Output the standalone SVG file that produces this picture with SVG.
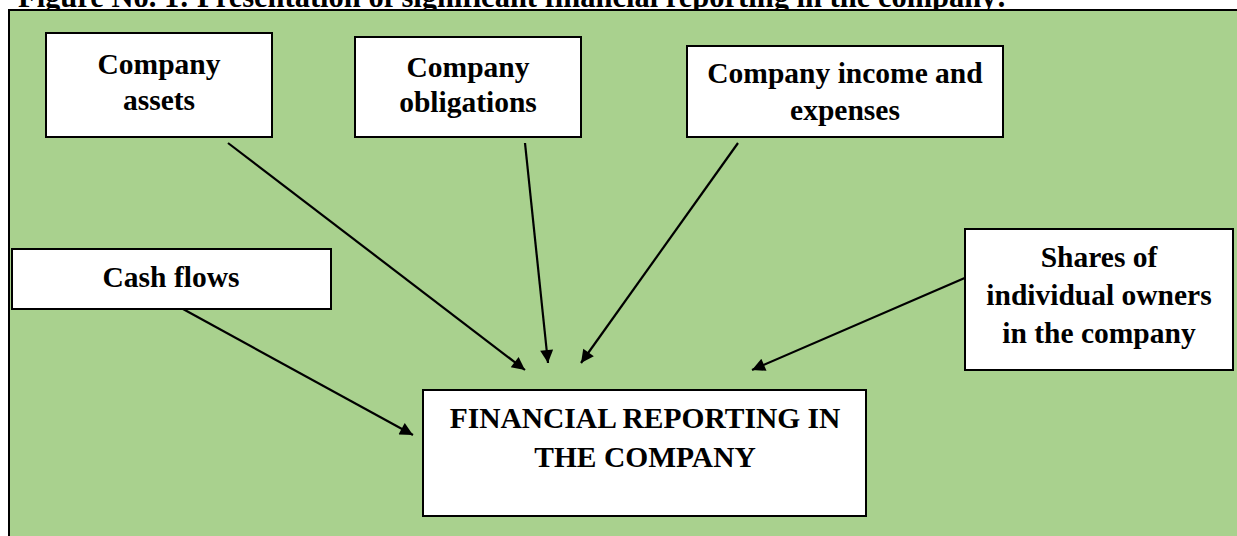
<svg xmlns="http://www.w3.org/2000/svg" width="1237" height="536" viewBox="0 0 1237 536">
<style>
.t{font-family:"Liberation Serif","Times New Roman",serif;font-weight:bold;font-size:29.5px;fill:#000;text-anchor:middle}
.title{font-family:"Liberation Serif","Times New Roman",serif;font-weight:bold;font-size:30.5px;fill:#000}
.box{fill:#fff;stroke:#000;stroke-width:2}
.c{stroke:#000;stroke-width:2.2;fill:none;marker-end:url(#ah)}
</style>
<defs>
<marker id="ah" viewBox="0 0 10 10" refX="10" refY="5" markerWidth="16" markerHeight="13" markerUnits="userSpaceOnUse" orient="auto">
<path d="M0,0 L10,5 L0,10 z" fill="#000"/>
</marker>
</defs>
<rect width="1237" height="536" fill="#fff"/>
<text class="title" x="18" y="7">Figure No. 1: Presentation of significant financial reporting in the company:</text>
<rect x="9" y="10" width="1240" height="540" fill="#A9D18E" stroke="#000" stroke-width="2"/>
<g id="connectors">
<line class="c" x1="228" y1="143" x2="525" y2="370"/>
<line class="c" x1="525" y1="143" x2="548" y2="363"/>
<line class="c" x1="738" y1="143" x2="581" y2="363"/>
<line class="c" x1="183" y1="309" x2="413" y2="435"/>
<line class="c" x1="967" y1="277" x2="752" y2="370"/>
</g>
<g id="assets">
<rect class="box" x="46" y="33" width="226" height="104"/>
<text class="t" x="159" y="74">Company</text>
<text class="t" x="159" y="110">assets</text>
</g>
<g id="obligations">
<rect class="box" x="355" y="37" width="226" height="100"/>
<text class="t" x="468" y="77">Company</text>
<text class="t" x="468" y="112">obligations</text>
</g>
<g id="income">
<rect class="box" x="687" y="46" width="316" height="91"/>
<text class="t" x="845" y="83">Company income and</text>
<text class="t" x="845" y="120">expenses</text>
</g>
<g id="cashflows">
<rect class="box" x="12" y="249" width="319" height="60"/>
<text class="t" x="171" y="287">Cash flows</text>
</g>
<g id="shares">
<rect class="box" x="965" y="229" width="268" height="141"/>
<text class="t" x="1099" y="267">Shares of</text>
<text class="t" x="1099" y="305">individual owners</text>
<text class="t" x="1099" y="343">in the company</text>
</g>
<g id="financial">
<rect class="box" x="423" y="390" width="443" height="126"/>
<text class="t" x="645" y="428">FINANCIAL REPORTING IN</text>
<text class="t" x="645" y="467">THE COMPANY</text>
</g>
</svg>
